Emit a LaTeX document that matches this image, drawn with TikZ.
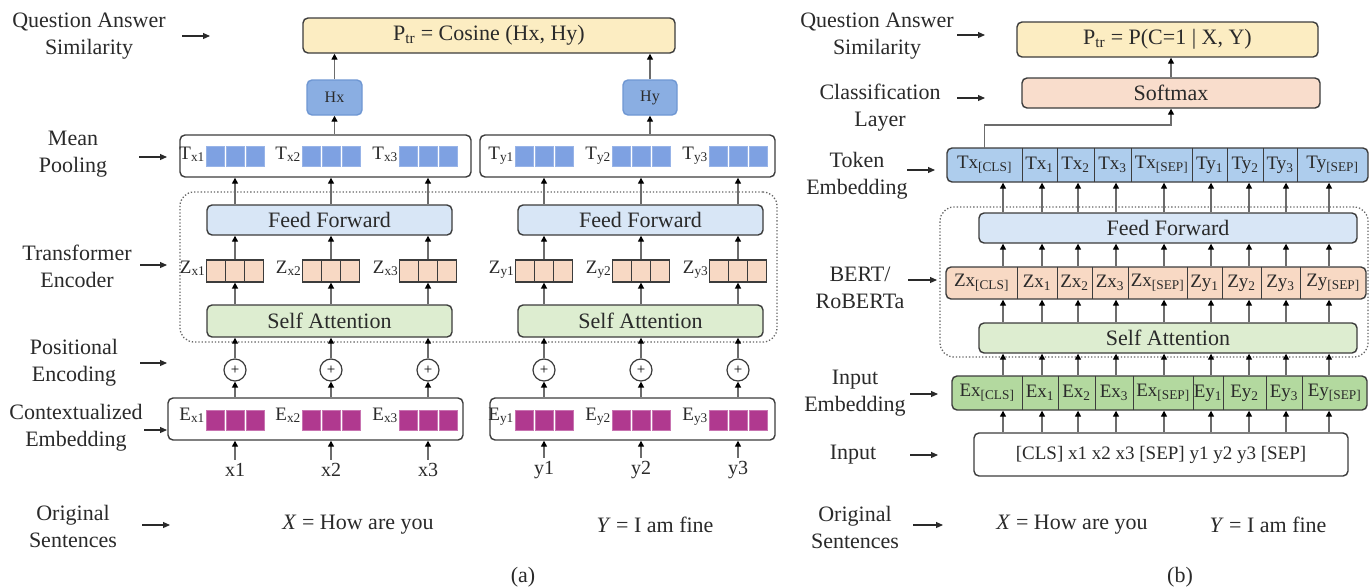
\documentclass[tikz,border=0pt]{standalone}
\usepackage{fontspec}
\setmainfont{Liberation Serif}
\usetikzlibrary{arrows.meta}
\definecolor{ylw}{HTML}{FCEDC2}
\definecolor{hblue}{HTML}{8AAEE2}
\definecolor{hbord}{HTML}{6F97D3}
\definecolor{tblue}{HTML}{7EA1E2}
\definecolor{peach}{HTML}{F8D9C4}
\definecolor{ffblue}{HTML}{D8E6F6}
\definecolor{sagreen}{HTML}{DDEDD0}
\definecolor{mag}{HTML}{B0398F}
\definecolor{tokblue}{HTML}{AECDED}
\definecolor{iegreen}{HTML}{B3D99F}
\definecolor{smpeach}{HTML}{F9DDCC}
\definecolor{bord}{HTML}{3C3C3C}
\definecolor{txt}{HTML}{2A2A2A}
\newcommand\mybx[7][]{\node[box,inner sep=0pt,minimum width={#5-#3},minimum height={#6-#4},#1] (#2) at ({(#3+#5)/2},{(#4+#6)/2}) {#7};}
\newcommand\mylar[4]{\coordinate (#1s) at (#2,#4); \coordinate (#1e) at (#3,#4); \draw[larr] (#1s) -- (#1e);}
\begin{document}
\begin{tikzpicture}[x=1pt,y=-1pt,
  box/.style={draw=bord, line width=1.4pt, rounded corners=5pt},
  lbl/.style={font=\fontsize{22}{27}\selectfont, align=center, text=txt, inner sep=0pt},
  big/.style={font=\fontsize{22}{26}\selectfont, text=txt},
  mid/.style={font=\fontsize{20}{24}\selectfont, text=txt},
  sml/.style={font=\fontsize{19}{22}\selectfont, text=txt},
  cell/.style={font=\fontsize{19}{22}\selectfont, text=txt, inner sep=0pt},
  larr/.style={-{Triangle[length=7pt,width=6pt]}, line width=1.1pt, draw=txt, fill=txt},
  up/.style={-{Triangle[length=6pt,width=6pt,color=black]}, line width=1.4pt, draw=gray!85!black},
  tsq/.style={fill=tblue, draw=tblue!80!white, line width=0.5pt, minimum width=18pt, minimum height=20pt, inner sep=0pt},
  zsq/.style={fill=peach, draw=bord, line width=1.2pt, minimum width=19pt, minimum height=22pt, inner sep=0pt},
  esq/.style={fill=mag, draw=mag!70!white, line width=0.5pt, minimum width=18pt, minimum height=20pt, inner sep=0pt},
  enc/.style={draw=gray!80!black, dotted, line width=1.3pt, rounded corners=14pt, inner sep=0pt},
]
\useasboundingbox (0,0) rectangle (1371,587);
\fill[white] (0,0) rectangle (1371,587);

% ---------------- (a) ----------------
\node[lbl] (qaA) at (89,36) {Question Answer\\Similarity};
\mylar{aQA}{182}{210}{36}
\node[lbl] (mpA) at (73,154) {Mean\\Pooling};
\mylar{aMP}{139}{167}{157}
\node[lbl] (teA) at (77,266) {Transformer\\Encoder};
\mylar{aTE}{140}{167}{265}
\node[lbl] (peA) at (74,363) {Positional\\Encoding};
\mylar{aPE}{140}{167}{363}
\node[lbl] (ceA) at (76,428) {Contextualized\\Embedding};
\mylar{aCE}{144}{167}{430}
\node[lbl] (osA) at (73,526) {Original\\Sentences};
\mylar{aOS}{142}{170}{525}

\mybx[fill=ylw,big]{PA}{303}{18}{675}{53}{P\textsubscript{tr} = Cosine (Hx, Hy)}
\mybx[fill=hblue,draw=hbord,font=\fontsize{16}{18}\selectfont,text=txt]{HX}{307}{80}{362}{115}{Hx}
\mybx[fill=hblue,draw=hbord,font=\fontsize{16}{18}\selectfont,text=txt]{HY}{623}{80}{677}{115}{Hy}
\mybx{MPX}{180}{135}{471}{177}{}
\mybx{MPY}{480}{135}{775}{177}{}
\node[enc, minimum width=597, minimum height=150] (ENC) at (478.5,267) {};
\mybx[fill=ffblue,big]{FFX}{207}{205}{452}{235}{Feed Forward}
\mybx[fill=ffblue,big]{FFY}{518}{205}{763}{235}{Feed Forward}
\mybx[fill=sagreen,big]{SAX}{207}{305}{452}{337}{Self Attention}
\mybx[fill=sagreen,big]{SAY}{518}{305}{763}{337}{Self Attention}
\mybx{EX}{168}{398}{463}{440}{}
\mybx{EY}{490}{398}{775}{440}{}

\foreach \cx/\n/\eb/\sab/\ffb/\mpb in {235/x1/EX/SAX/FFX/MPX, 331/x2/EX/SAX/FFX/MPX, 428/x3/EX/SAX/FFX/MPX, 544/y1/EY/SAY/FFY/MPY, 641/y2/EY/SAY/FFY/MPY, 738/y3/EY/SAY/FFY/MPY} {
  \foreach \k/\m in {-1/a,0/b,1/c} {
    \node[tsq] (T\m\n) at (\cx+\k*20,156) {};
    \node[zsq] (Z\m\n) at (\cx+\k*19,271) {};
    \node[esq] (E\m\n) at (\cx+\k*20,420) {};
  }
  \node[sml, anchor=base east, inner sep=1pt] (TL\n) at (\cx-29,159) {T\textsubscript{\n}};
  \node[sml, anchor=base east, inner sep=1pt] (ZL\n) at (\cx-28.5,273) {Z\textsubscript{\n}};
  \node[sml, anchor=base east, inner sep=1pt] (EL\n) at (\cx-29,420) {E\textsubscript{\n}};
  \node[circle, draw=bord, line width=1.2pt, minimum size=22pt, inner sep=0pt, font=\fontsize{15}{15}\selectfont] (P\n) at (\cx,370) {+};
  \node[mid] (I\n) at (\cx,470) {\n};
  \draw[up] (I\n.north) -- (I\n.north |- \eb.south);
  \draw[up] (P\n.south |- \eb.north) -- (P\n.south);
  \draw[up] (P\n.north) -- (P\n.north |- \sab.south);
  \draw[up] (Zb\n.south |- \sab.north) -- (Zb\n.south);
  \draw[up] (Zb\n.north) -- (Zb\n.north |- \ffb.south);
  \draw[up] (Zb\n.north |- \ffb.north) -- (Zb\n.north |- \mpb.south);
}
\draw[up] (HX.south |- MPX.north) -- (HX.south);
\draw[up] (HX.north) -- (HX.north |- PA.south);
\draw[up] (HY.south |- MPY.north) -- (HY.south);
\draw[up] (HY.north) -- (HY.north |- PA.south);

\node[big] (XA) at (358,525) {\textit{X} = How are you};
\node[big] (YA) at (655,525) {\textit{Y} = I am fine};
\node[big] (capA) at (523,577) {(a)};

% ---------------- (b) ----------------
\node[lbl] (qaB) at (877,36) {Question Answer\\Similarity};
\mylar{bQA}{957}{985}{35}
\node[lbl] (clB) at (880,108) {Classification\\Layer};
\mylar{bCL}{957}{985}{98}
\node[lbl] (teB) at (857,176) {Token\\Embedding};
\mylar{bTE}{907}{935}{170}
\node[lbl] (brB) at (860,288) {BERT/\\RoBERTa};
\mylar{bBR}{908}{937}{280}
\node[lbl] (ieB) at (855,393) {Input\\Embedding};
\mylar{bIE}{910}{938}{394}
\node[lbl] (inB) at (853,455) {Input};
\mylar{bIN}{910}{938}{455}
\node[lbl] (osB) at (855,527) {Original\\Sentences};
\mylar{bOS}{913}{943}{525}

\mybx[fill=ylw,big]{PB}{1017}{22}{1318}{57}{P\textsubscript{tr} = P(C=1 | X, Y)}
\mybx[fill=smpeach,big]{SM}{1022}{78}{1320}{108}{Softmax}
\mybx[fill=tokblue]{TR}{947}{148}{1368}{182}{}
\node[enc, minimum width=428, minimum height=150] (BERT) at (1154,282) {};
\mybx[fill=ffblue,big]{FFB}{979}{213}{1357}{243}{Feed Forward}
\mybx[fill=peach]{ZR}{946}{267}{1366}{299}{}
\mybx[fill=sagreen,big]{SAB}{979}{323}{1357}{353}{Self Attention}
\mybx[fill=iegreen]{IE}{952}{376}{1367}{410}{}
\mybx[fill=white,sml]{INB}{974}{433}{1348}{476}{[CLS] x1 x2 x3 [SEP] y1 y2 y3 [SEP]}

\foreach \a/\b/\nm/\t in {947/1022/tk1/Tx\textsubscript{[CLS]}, 1022/1057/tk2/Tx\textsubscript{1}, 1057/1094/tk3/Tx\textsubscript{2}, 1094/1131/tk4/Tx\textsubscript{3}, 1131/1192/tk5/Tx\textsubscript{[SEP]}, 1192/1227/tk6/Ty\textsubscript{1}, 1227/1263/tk7/Ty\textsubscript{2}, 1263/1297/tk8/Ty\textsubscript{3}, 1297/1368/tk9/Ty\textsubscript{[SEP]}}
  \node[cell, minimum width={\b-\a}, minimum height=34] (\nm) at ({(\a+\b)/2},165) {\t};
\foreach \a/\b/\nm/\t in {946/1017/zc1/Zx\textsubscript{[CLS]}, 1017/1057/zc2/Zx\textsubscript{1}, 1057/1092/zc3/Zx\textsubscript{2}, 1092/1128/zc4/Zx\textsubscript{3}, 1128/1187/zc5/Zx\textsubscript{[SEP]}, 1187/1222/zc6/Zy\textsubscript{1}, 1222/1261/zc7/Zy\textsubscript{2}, 1261/1300/zc8/Zy\textsubscript{3}, 1300/1366/zc9/Zy\textsubscript{[SEP]}}
  \node[cell, minimum width={\b-\a}, minimum height=32] (\nm) at ({(\a+\b)/2},283) {\t};
\foreach \a/\b/\nm/\t in {952/1022/ec1/Ex\textsubscript{[CLS]}, 1022/1058/ec2/Ex\textsubscript{1}, 1058/1095/ec3/Ex\textsubscript{2}, 1095/1133/ec4/Ex\textsubscript{3}, 1133/1193/ec5/Ex\textsubscript{[SEP]}, 1193/1223/ec6/Ey\textsubscript{1}, 1223/1266/ec7/Ey\textsubscript{2}, 1266/1302/ec8/Ey\textsubscript{3}, 1302/1367/ec9/Ey\textsubscript{[SEP]}}
  \node[cell, minimum width={\b-\a}, minimum height=34] (\nm) at ({(\a+\b)/2},393) {\t};
\foreach \i in {1,...,8} {
  \draw[bord, line width=1.1pt] (tk\i.north east) -- (tk\i.south east);
  \draw[bord, line width=1.1pt] (zc\i.north east) -- (zc\i.south east);
  \draw[bord, line width=1.1pt] (ec\i.north east) -- (ec\i.south east);
}

\foreach \cx [count=\i] in {1003,1042,1078,1116,1164,1211,1249,1286,1329} {
  \coordinate (cb\i) at (\cx,0);
}
\foreach \i in {1,...,9} {
  \draw[up] (INB.north -| cb\i) -- (IE.south -| cb\i);
  \draw[up] (IE.north -| cb\i) -- (SAB.south -| cb\i);
  \draw[up] (SAB.north -| cb\i) -- (ZR.south -| cb\i);
  \draw[up] (ZR.north -| cb\i) -- (FFB.south -| cb\i);
  \draw[up] (FFB.north -| cb\i) -- (TR.south -| cb\i);
}
\draw[up] (SM.north) -- (SM.north |- PB.south);
\draw[up] (tk1.north) -- ++(0,-23) -| (SM.south);

\node[big] (XB) at (1072,525) {\textit{X} = How are you};
\node[big] (YB) at (1268,525) {\textit{Y} = I am fine};
\node[big] (capB) at (1180,577) {(b)};
\end{tikzpicture}
\end{document}
